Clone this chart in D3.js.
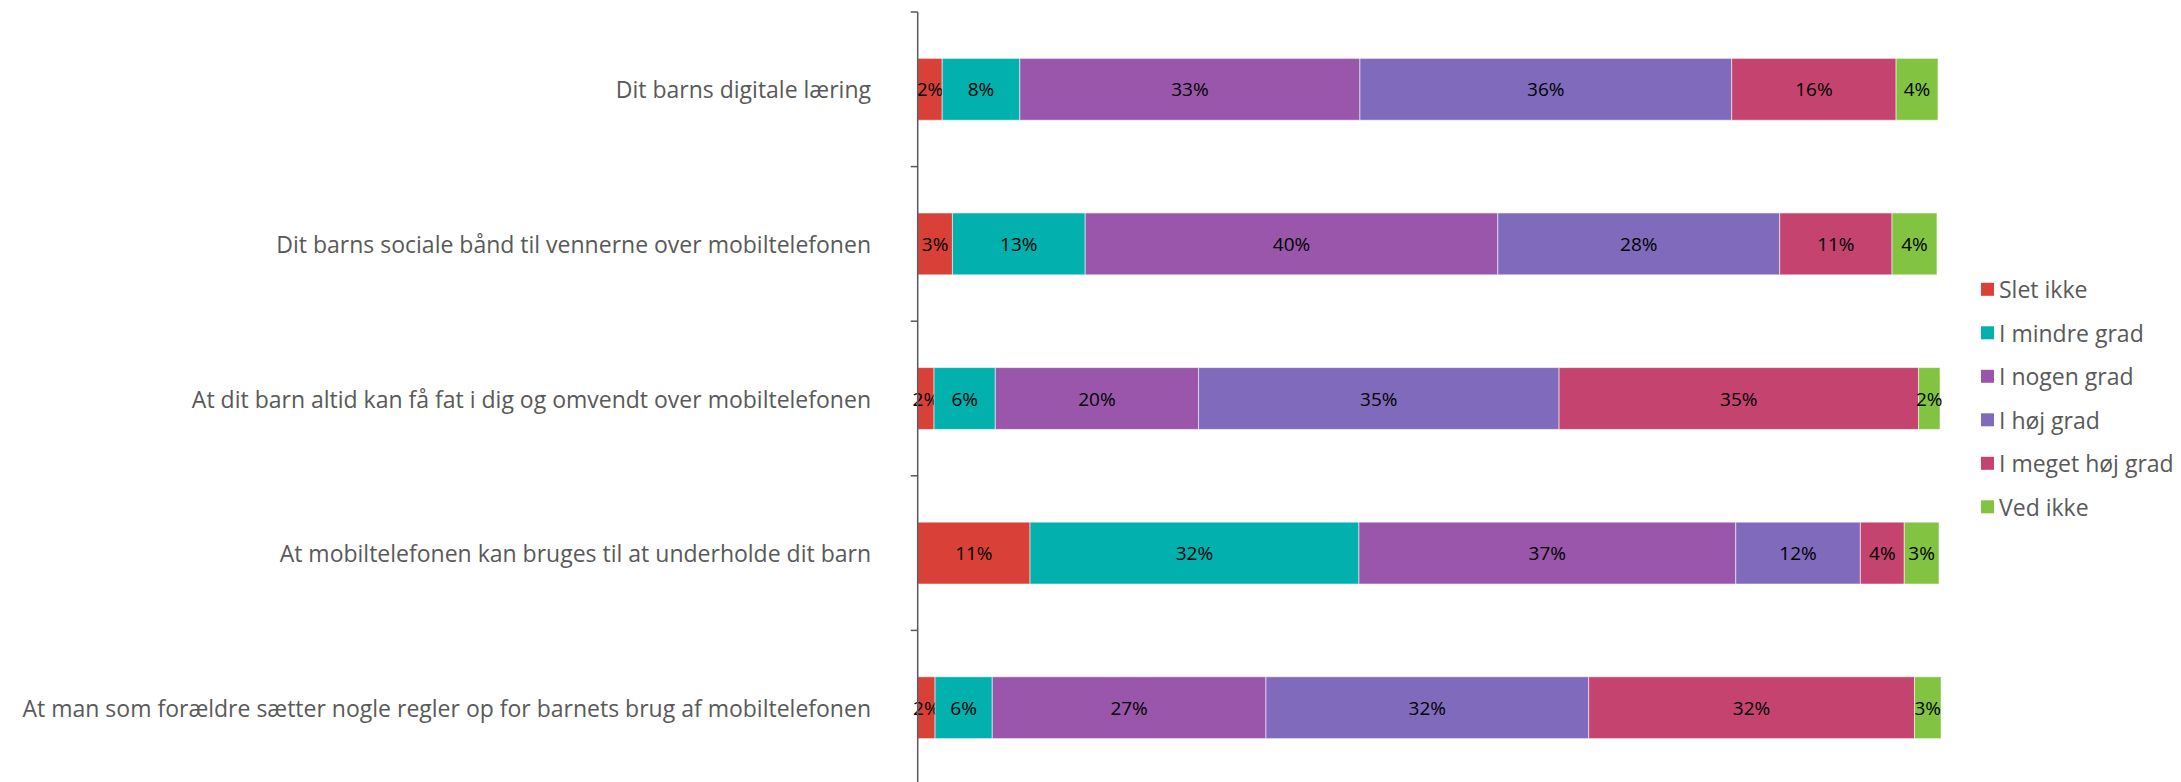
<!DOCTYPE html>
<html>
<head>
<meta charset="utf-8">
<script src="https://cdn.jsdelivr.net/npm/d3@7"></script>
<style>
body { margin: 0; background: #fff; }
svg { display: block; }
</style>
</head>
<body>
<svg width="2181" height="782"></svg>
<script>
// categories (top to bottom)
let categories = [
    "Dit barns digitale læring",
    "Dit barns sociale bånd til vennerne over mobiltelefonen",
    "At dit barn altid kan få fat i dig og omvendt over mobiltelefonen",
    "At mobiltelefonen kan bruges til at underholde dit barn",
    "At man som forældre sætter nogle regler op for barnets brug af mobiltelefonen"
]

let seriesNames = ["Slet ikke", "I mindre grad", "I nogen grad", "I høj grad", "I meget høj grad", "Ved ikke"]
let seriesColors = ["#d94038", "#02b0ad", "#9a56aa", "#806abc", "#c4436f", "#82c341"]

// percentages, one array per series (same order as categories)
let sletIkke      = [2.4, 3.4, 1.6, 11.0, 1.7]
let iMindreGrad   = [7.6, 13.0, 6.0, 32.2, 5.6]
let iNogenGrad    = [33.3, 40.4, 19.9, 36.9, 26.8]
let iHojGrad      = [36.4, 27.6, 35.3, 12.2, 31.6]
let iMegetHojGrad = [16.1, 11.0, 35.2, 4.3, 31.9]
let vedIkke       = [4.1, 4.4, 2.1, 3.4, 2.6]

let seriesValues = [sletIkke, iMindreGrad, iNogenGrad, iHojGrad, iMegetHojGrad, vedIkke]

let svg = d3.select("svg")

let plotLeft = 917.7
let plotRight = 1939
let plotTop = 12
let plotBottom = 785

let x = d3.scaleLinear()
    .domain([0, 100])
    .range([plotLeft, plotRight])

let y = d3.scaleBand()
    .domain(categories)
    .range([plotTop, plotBottom])
    .paddingInner(0.6)
    .paddingOuter(0.3)

let color = d3.scaleOrdinal()
    .domain(seriesNames)
    .range(seriesColors)

// build rows for stack
let table = categories.map((c, i) => {
    let row = { cat: c }
    seriesNames.forEach((s, j) => { row[s] = seriesValues[j][i] })
    return row
})

let stacked = d3.stack().keys(seriesNames)(table)

let groups = svg.selectAll(".series")
    .data(stacked)
    .join("g")
    .attr("class", "series")
    .style("fill", d => color(d.key))

groups.selectAll("rect")
    .data(d => d)
    .join("rect")
    .attr("x", d => x(d[0]))
    .attr("y", d => y(d.data.cat))
    .attr("width", d => x(d[1]) - x(d[0]))
    .attr("height", y.bandwidth())
    .style("stroke", "rgba(255,255,255,0.55)")
    .style("stroke-width", 1)

groups.selectAll("text")
    .data(d => d)
    .join("text")
    .attr("x", d => (x(d[0]) + x(d[1])) / 2)
    .attr("y", d => y(d.data.cat) + y.bandwidth() / 2)
    .attr("text-anchor", "middle")
    .attr("dominant-baseline", "central")
    .style("fill", "#000")
    .style("font-family", "'Open Sans', sans-serif")
    .style("font-size", "19px")
    .text(d => Math.round(d[1] - d[0]) + "%")

// axis line with ticks between categories
svg.append("line")
    .attr("x1", plotLeft).attr("x2", plotLeft)
    .attr("y1", plotTop).attr("y2", plotBottom)
    .style("stroke", "#595959")
    .style("stroke-width", 1.5)

let boundaries = d3.range(categories.length + 1).map(i => plotTop + i * y.step())

svg.selectAll(".tick")
    .data(boundaries)
    .join("line")
    .attr("class", "tick")
    .attr("x1", plotLeft - 7).attr("x2", plotLeft)
    .attr("y1", d => d).attr("y2", d => d)
    .style("stroke", "#595959")
    .style("stroke-width", 1.5)

svg.selectAll(".cat-label")
    .data(categories)
    .join("text")
    .attr("class", "cat-label")
    .attr("x", 871)
    .attr("y", d => y(d) + y.bandwidth() / 2)
    .attr("text-anchor", "end")
    .attr("dominant-baseline", "central")
    .style("fill", "#595959")
    .style("font-family", "'Open Sans', sans-serif")
    .style("font-size", "23px")
    .text(d => d)

// legend
let legend = svg.selectAll(".legend")
    .data(seriesNames)
    .join("g")
    .attr("class", "legend")
    .attr("transform", (d, i) => `translate(1981, ${289.3 + i * 43.5})`)

legend.append("rect")
    .attr("x", 0)
    .attr("y", -6.5)
    .attr("width", 13)
    .attr("height", 13)
    .style("fill", d => color(d))

legend.append("text")
    .attr("x", 18)
    .attr("y", 0)
    .attr("dominant-baseline", "central")
    .style("fill", "#595959")
    .style("font-family", "'Open Sans', sans-serif")
    .style("font-size", "23px")
    .text(d => d)
</script>
</body>
</html>
